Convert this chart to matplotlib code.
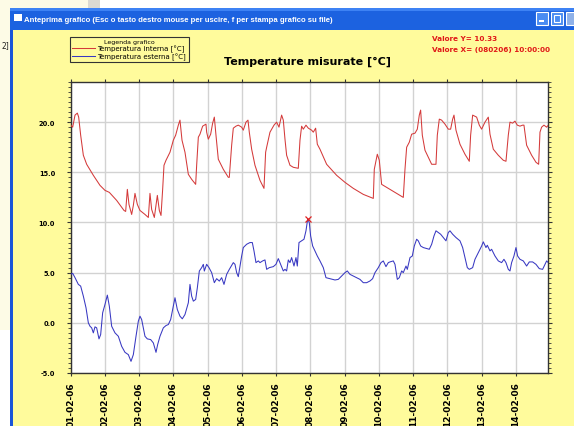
import matplotlib
matplotlib.use("Agg")
import matplotlib.pyplot as plt
from matplotlib.patches import Rectangle
from matplotlib.ticker import MultipleLocator, FormatStrFormatter

W, H = 574, 427

# day index 0 = 01-02-06 00:00
day_labels = ["01-02-06", "02-02-06", "03-02-06", "04-02-06", "05-02-06",
              "06-02-06", "07-02-06", "08-02-06", "09-02-06", "10-02-06",
              "11-02-06", "12-02-06", "13-02-06", "14-02-06"]

# Temperatura interna [°C]
red_days = [0.0, 0.058, 0.126, 0.194, 0.233, 0.291, 0.369, 0.466, 0.661, 0.855,
            1.001, 1.128, 1.342, 1.556, 1.605, 1.654, 1.702, 1.780, 1.829, 1.877,
            1.946, 2.023, 2.169, 2.267, 2.315, 2.364, 2.442, 2.530, 2.588, 2.637,
            2.685, 2.724, 2.783, 2.899, 2.997, 3.065, 3.143, 3.191, 3.250, 3.337,
            3.435, 3.532, 3.649, 3.678, 3.727, 3.775, 3.853, 3.950, 3.970, 4.018,
            4.087, 4.145, 4.194, 4.242, 4.310, 4.456, 4.602, 4.631, 4.700, 4.748,
            4.826, 4.894, 4.992, 5.040, 5.118, 5.177, 5.215, 5.284, 5.381, 5.527,
            5.644, 5.692, 5.722, 5.819, 5.936, 6.013, 6.082, 6.159, 6.208, 6.257,
            6.305, 6.403, 6.500, 6.646, 6.695, 6.743, 6.792, 6.870, 6.938, 7.035,
            7.084, 7.152, 7.201, 7.279, 7.473, 7.765, 8.009, 8.252, 8.544, 8.836,
            8.865, 8.953, 9.011, 9.079, 9.226, 9.323, 9.518, 9.712, 9.761, 9.810,
            9.887, 9.956, 10.053, 10.121, 10.179, 10.218, 10.267, 10.345, 10.442, 10.540,
            10.666, 10.705, 10.763, 10.831, 10.929, 11.026, 11.094, 11.153, 11.192, 11.250,
            11.367, 11.513, 11.639, 11.678, 11.737, 11.853, 11.931, 11.999, 12.097, 12.194,
            12.243, 12.340, 12.486, 12.632, 12.710, 12.778, 12.827, 12.904, 12.973, 13.041,
            13.119, 13.196, 13.235, 13.313, 13.459, 13.586, 13.664, 13.703, 13.751, 13.819,
            13.897, 13.946]
red_vals = [19.7, 19.5, 20.7, 20.9, 20.5, 18.7, 16.7, 15.8, 14.7, 13.7,
            13.2, 13.0, 12.2, 11.2, 11.1, 13.3, 11.8, 10.8, 11.7, 12.9,
            11.8, 11.2, 10.8, 10.5, 12.9, 11.3, 10.5, 12.7, 11.2, 10.7,
            13.3, 15.7, 16.2, 17.0, 18.2, 18.7, 19.7, 20.2, 18.2, 17.0,
            14.8, 14.3, 13.8, 15.7, 18.5, 18.8, 19.6, 19.8, 19.0, 18.3,
            18.8, 19.9, 20.5, 18.7, 16.3, 15.3, 14.5, 14.5, 17.7, 19.4,
            19.6, 19.7, 19.5, 19.2, 20.0, 20.2, 19.0, 17.3, 15.7, 14.2,
            13.4, 17.0, 17.5, 19.0, 19.7, 20.0, 19.5, 20.7, 20.2, 18.3,
            16.7, 15.7, 15.5, 15.4, 18.2, 19.6, 19.3, 19.7, 19.4, 19.2,
            19.0, 19.4, 17.8, 17.3, 15.8, 14.7, 14.0, 13.4, 12.8, 12.4,
            15.3, 16.8, 16.2, 13.8, 13.5, 13.3, 12.9, 12.5, 15.3, 17.5,
            18.0, 18.8, 18.9, 19.3, 20.7, 21.2, 18.7, 17.2, 16.5, 15.8,
            15.8, 18.7, 20.3, 20.2, 19.8, 19.3, 19.3, 20.3, 20.7, 19.2,
            17.8, 16.8, 16.1, 18.7, 20.7, 20.5, 19.7, 19.3, 20.0, 20.5,
            18.8, 17.3, 16.7, 16.2, 16.1, 18.7, 20.0, 19.9, 20.1, 19.7,
            19.6, 19.7, 19.7, 17.7, 16.7, 16.0, 15.8, 19.0, 19.5, 19.7,
            19.5, 19.7]

# Temperatura esterna [°C]
blue_days = [0.0, 0.058, 0.126, 0.223, 0.291, 0.369, 0.447, 0.515, 0.564, 0.612,
             0.661, 0.709, 0.758, 0.826, 0.875, 0.933, 1.001, 1.070, 1.128, 1.196,
             1.293, 1.391, 1.488, 1.585, 1.683, 1.731, 1.761, 1.829, 1.907, 1.975,
             2.023, 2.072, 2.169, 2.237, 2.335, 2.413, 2.491, 2.539, 2.607, 2.705,
             2.783, 2.851, 2.919, 2.977, 3.045, 3.113, 3.191, 3.259, 3.337, 3.435,
             3.483, 3.532, 3.581, 3.649, 3.698, 3.756, 3.824, 3.873, 3.902, 3.970,
             4.038, 4.116, 4.194, 4.262, 4.340, 4.408, 4.476, 4.554, 4.632, 4.748,
             4.797, 4.846, 4.894, 4.943, 4.992, 5.040, 5.138, 5.235, 5.303, 5.352,
             5.410, 5.478, 5.527, 5.605, 5.673, 5.722, 5.799, 5.916, 5.994, 6.062,
             6.130, 6.208, 6.257, 6.305, 6.354, 6.403, 6.451, 6.520, 6.578, 6.617,
             6.666, 6.743, 6.812, 6.870, 6.919, 6.967, 7.006, 7.065, 7.133, 7.201,
             7.279, 7.376, 7.454, 7.571, 7.717, 7.814, 7.911, 8.009, 8.077, 8.155,
             8.252, 8.349, 8.447, 8.544, 8.641, 8.739, 8.816, 8.885, 8.982, 9.060,
             9.128, 9.206, 9.274, 9.323, 9.420, 9.469, 9.537, 9.595, 9.664, 9.712,
             9.790, 9.829, 9.907, 9.975, 10.033, 10.102, 10.150, 10.218, 10.296, 10.394,
             10.471, 10.540, 10.608, 10.666, 10.734, 10.802, 10.880, 10.958, 11.026, 11.075,
             11.153, 11.250, 11.367, 11.445, 11.513, 11.581, 11.639, 11.737, 11.805, 11.902,
             12.000, 12.048, 12.126, 12.165, 12.243, 12.291, 12.389, 12.486, 12.583, 12.651,
             12.710, 12.778, 12.827, 12.875, 12.943, 13.002, 13.050, 13.119, 13.216, 13.313,
             13.391, 13.488, 13.586, 13.683, 13.780, 13.849, 13.897, 13.946]
blue_vals = [4.83, 4.93, 4.5, 3.83, 3.66, 2.66, 1.5, 0.0, -0.34, -0.5,
             -1.0, -0.4, -0.5, -1.6, -1.17, 1.0, 1.83, 2.76, 1.66, -0.34,
             -1.0, -1.34, -2.34, -2.94, -3.17, -3.6, -3.84, -3.17, -1.34, 0.16,
             0.66, 0.33, -1.34, -1.6, -1.67, -2.0, -2.94, -2.17, -1.34, -0.5,
             -0.27, -0.17, 0.33, 1.33, 2.5, 1.33, 0.66, 0.4, 0.83, 2.0,
             3.83, 2.66, 2.16, 2.33, 3.5, 5.16, 5.5, 5.83, 5.16, 5.83,
             5.5, 5.0, 4.0, 4.4, 4.16, 4.5, 3.83, 4.83, 5.33, 6.0,
             5.83, 5.0, 4.6, 5.66, 6.66, 7.5, 7.83, 8.0, 8.0, 7.17,
             6.0, 6.17, 6.0, 6.17, 6.27, 5.33, 5.5, 5.6, 5.83, 6.4,
             5.83, 5.17, 5.33, 5.17, 6.27, 6.0, 6.5, 5.66, 6.5, 5.66,
             8.0, 8.17, 8.33, 9.17, 10.33, 10.0, 8.66, 7.66, 7.17, 6.66,
             6.17, 5.5, 4.5, 4.4, 4.27, 4.33, 4.66, 5.0, 5.17, 4.83,
             4.66, 4.5, 4.33, 4.0, 4.0, 4.17, 4.4, 5.0, 5.5, 6.0,
             6.17, 5.6, 6.0, 6.07, 6.17, 5.83, 4.33, 4.5, 5.17, 5.0,
             5.66, 5.33, 6.5, 6.66, 7.66, 8.33, 8.17, 7.66, 7.5, 7.4,
             7.33, 7.83, 8.66, 9.17, 9.0, 8.83, 8.5, 8.17, 9.0, 9.17,
             8.83, 8.5, 8.17, 7.5, 6.5, 5.5, 5.33, 5.5, 6.33, 7.0,
             7.66, 8.07, 7.5, 7.73, 7.17, 7.33, 6.66, 6.17, 6.0, 6.33,
             6.0, 5.33, 5.17, 6.0, 6.66, 7.5, 6.66, 6.33, 6.17, 5.66,
             6.07, 6.07, 5.83, 5.4, 5.33, 5.83, 6.17, 6.0]

cursor_day = 6.919   # (080206) 10:00:00
cursor_val = 10.33
x_end = 13.946

yellow = "#fffb9c"


def box(x, y, w, h, color, **kw):
    # rectangle given in screen pixels from the top-left corner
    fig.add_artist(Rectangle((x / W, 1 - (y + h) / H), w / W, h / H,
                             transform=fig.transFigure, facecolor=color, **kw))


fig = plt.figure(figsize=(W / 100, H / 100), dpi=100, facecolor=yellow)

# window chrome around the chart
box(0, 0, 88, 9, "#fdfbe6", edgecolor="none")
box(88, 0, 12, 9, "#dcdad2", edgecolor="none")
box(100, 0, 474, 9, "white", edgecolor="none")
box(0, 9, 10, 322, "#fdfbe6", edgecolor="none")
box(0, 331, 10, 96, "white", edgecolor="none")
box(10, 9, 564, 22, "#1c62e0", edgecolor="none")
box(10, 9, 564, 3, "#3d82f4", edgecolor="none")
box(10, 31, 3, 396, "#1a55d8", edgecolor="none")
box(14, 15, 8, 7, "white", edgecolor="none")
box(536, 13, 12, 13, "#4a8cf2", edgecolor="white", linewidth=0.8)
box(551, 13, 12, 13, "#4a8cf2", edgecolor="white", linewidth=0.8)
box(566, 13, 12, 13, "#8fb1e8", edgecolor="white", linewidth=0.8)
box(539, 21, 5, 2, "white", edgecolor="none")
box(554, 16, 6, 7, "none", edgecolor="white", linewidth=0.8)
fig.text(24 / W, 1 - 20 / H,
         "Anteprima grafico (Esc o tasto destro mouse per uscire, f per stampa grafico su file)",
         color="white", fontsize=5.6, fontweight="bold", family="Liberation Sans",
         va="center", ha="left")
fig.text(1 / W, 1 - 46 / H, "2]", fontsize=5.5, va="center", ha="left", color="#222222")

ax = fig.add_axes([70.7 / W, 53 / H, 477.6 / W, 291 / H])
ax.set_facecolor("white")

l1, = ax.plot(red_days, red_vals, color="#d43a3a", lw=0.75, zorder=3)
l2, = ax.plot(blue_days, blue_vals, color="#3838c2", lw=0.75, zorder=3)
ax.plot([cursor_day], [cursor_val], marker="x", color="#e02020", ms=4, mew=0.9, zorder=4)

ax.set_xlim(0, x_end)
ax.set_ylim(-5, 24)

ax.set_xticks(range(len(day_labels)))
ax.set_xticklabels(day_labels, rotation=90, fontsize=6.5, fontweight="bold")
ax.set_yticks([-5, 0, 5, 10, 15, 20])
ax.yaxis.set_major_formatter(FormatStrFormatter("%.1f"))
ax.yaxis.set_minor_locator(MultipleLocator(0.5))
for lab in ax.get_yticklabels():
    lab.set_fontweight("bold")

ax.tick_params(axis="x", which="major", direction="out", length=2.2, width=0.8,
               top=True, color="#333333", pad=4)
ax.tick_params(axis="y", which="major", direction="out", length=3, width=0.8,
               right=True, color="#333333", labelsize=4.8, pad=8.3)
ax.tick_params(axis="y", which="minor", direction="out", length=2.2, width=0.6,
               right=True, color="#333333")

ax.grid(True, which="major", color="#d2d2d2", lw=1.0)
ax.set_axisbelow(True)
for sp in ax.spines.values():
    sp.set_color("#333333")
    sp.set_linewidth(1.0)

fig.text(308 / W, 1 - 62 / H, "Temperature misurate [\u00b0C]", fontsize=8,
         fontweight="bold", ha="center", va="center")

fig.text(432 / W, 1 - 39 / H, "Valore Y= 10.33", color="#e01818", fontsize=5.2,
         fontweight="bold", ha="left", va="center")
fig.text(432 / W, 1 - 50 / H, "Valore X= (080206) 10:00:00", color="#e01818",
         fontsize=5.2, fontweight="bold", ha="left", va="center")

leg = ax.legend([l1, l2], ["Temperatura interna [\u00b0C]", "Temperatura esterna [\u00b0C]"],
                title="Legenda grafico", loc="upper left",
                bbox_to_anchor=(70 / W, 1 - 38 / H), bbox_transform=fig.transFigure,
                fontsize=5, title_fontsize=4.5, frameon=True, fancybox=False,
                edgecolor="#333333", facecolor=yellow, framealpha=1,
                handlelength=3.2, handletextpad=0.4, labelspacing=0.05,
                borderpad=0.35, borderaxespad=0)
leg.get_frame().set_linewidth(0.8)

fig.savefig("out.png", dpi=100, facecolor=yellow)
